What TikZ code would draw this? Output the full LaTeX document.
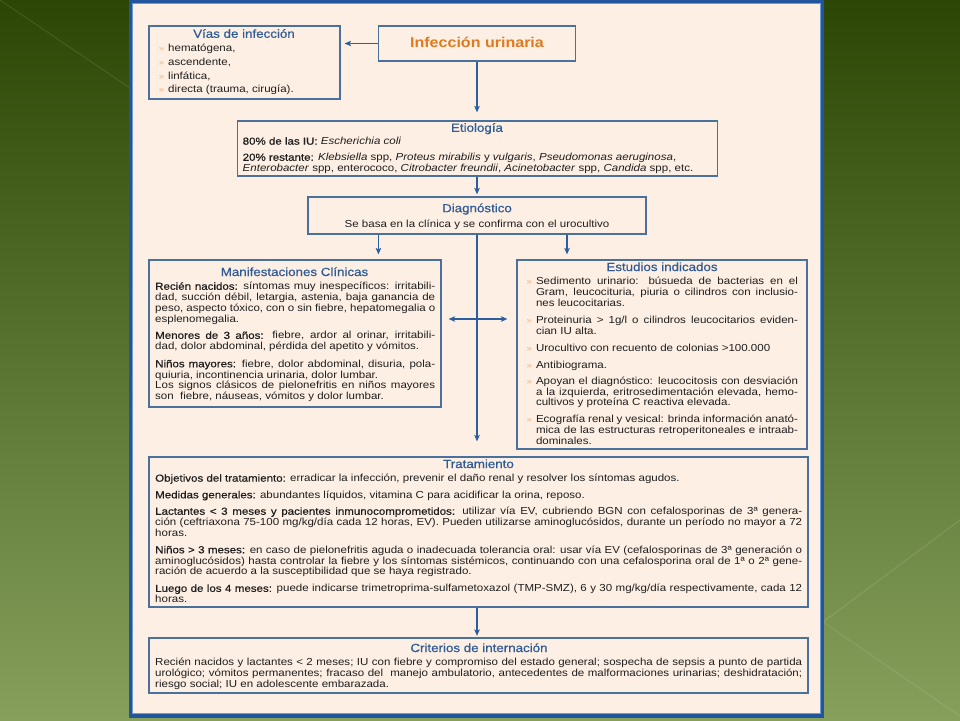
\documentclass[tikz,border=0pt]{standalone}
\usepackage{fontspec}
\setmainfont{Liberation Sans}[FakeStretch=1.13]
\newfontfamily\semib{Liberation Sans}[FakeStretch=1.13,FakeBold=0.5]
\usetikzlibrary{arrows.meta}
\definecolor{bgtop}{HTML}{2C4705}
\definecolor{bgmid}{HTML}{55702C}
\definecolor{bgbot}{HTML}{86A05C}
\definecolor{panelfill}{HTML}{FDEFE3}
\definecolor{panelborder}{HTML}{22569C}
\definecolor{panelinner}{HTML}{6F9AD2}
\definecolor{boxc}{HTML}{4A709C}
\definecolor{arrc}{HTML}{2A5E9E}
\definecolor{titc}{HTML}{2F5B96}
\definecolor{txtc}{HTML}{1E1E1E}
\definecolor{orangec}{HTML}{E07A1E}
\definecolor{bulc}{HTML}{F0B486}
\newcommand\bodyf{\fontsize{10.2}{10.8}\selectfont\hyphenpenalty=10000\exhyphenpenalty=10000\tolerance=9000\relax}
\newcommand\titlef{\semib\fontsize{11.8}{13}\selectfont}
\newcommand\bul{\llap{{\color{bulc}\fontsize{8.5}{8.5}\selectfont »}\hspace{4pt}}}
\begin{document}
\begin{tikzpicture}[x=1pt,y=-1pt,
  box/.style={draw=boxc, line width=1.2pt, rectangle, inner sep=0pt},
  arr/.style={draw=arrc, line width=1.1pt, -{Stealth[length=6.5pt,width=5.5pt,inset=1.5pt]}},
  arrb/.style={draw=arrc, line width=1.1pt, {Stealth[length=6.5pt,width=5.5pt,inset=1.5pt]}-{Stealth[length=6.5pt,width=5.5pt,inset=1.5pt]}},
  ttl/.style={anchor=base, inner sep=0pt, text=titc, font=\titlef},
  txt/.style={anchor=north west, inner sep=0pt, text width=#1, align=justify, text=txtc, font=\bodyf, execute at begin node=\noindent\strut},
  txt/.default=300pt,
]
\useasboundingbox (0,0) rectangle (960,720);
% background
\shade[top color=bgtop, middle color=bgmid, bottom color=bgbot] (0,0) rectangle (960,720);
\draw[white, opacity=0.10, line width=1pt] (0,0) -- (130,88);
\draw[white, opacity=0.12, line width=1pt] (823,622) -- (960,520);
\draw[white, opacity=0.10, line width=1pt] (823,622) -- (960,716);
% panel
\draw[fill=panelfill, draw=panelborder, line width=3.5pt] (130.5,1) rectangle (822.5,716);
\draw[draw=panelinner, line width=0.8pt] (132.6,3.2) rectangle (820.4,713.8);

% boxes
\node[box, minimum width=197pt, minimum height=35pt] (inf) at (477,43.5) {};
\node[box, minimum width=191pt, minimum height=73pt] (vias) at (244.5,62.5) {};
\node[box, minimum width=480pt, minimum height=55pt] (etio) at (477.5,148.5) {};
\node[box, minimum width=338pt, minimum height=37pt] (diag) at (477,215.5) {};
\node[box, minimum width=292pt, minimum height=147pt] (mani) at (295,333.5) {};
\node[box, minimum width=290pt, minimum height=189pt] (estu) at (662,354.5) {};
\node[box, minimum width=659pt, minimum height=150pt] (trat) at (478.5,532) {};
\node[box, minimum width=659pt, minimum height=55pt] (crit) at (478.5,665.5) {};

% titles
\node[anchor=base, inner sep=0pt, text=orangec, font=\bfseries\fontsize{14.2}{15}\selectfont] (tinf) at (477,47.8) {Infección urinaria};
\node[ttl] (tvias) at (244,37.8) {Vías de infección};
\node[ttl] (tetio) at (477,131.8) {Etiología};
\node[ttl] (tdiag) at (477,212.2) {Diagnóstico};
\node[ttl] (tmani) at (294.5,276) {Manifestaciones Clínicas};
\node[ttl] (testu) at (662,271) {Estudios indicados};
\node[ttl] (ttrat) at (478.5,468) {Tratamiento};
\node[ttl] (tcrit) at (479,652) {Criterios de internación};

% Vías de infección
\node[txt=165pt] (v1) at (168,43.7) {\bul hematógena,};
\node[txt=165pt] (v2) at (168,57.5) {\bul ascendente,};
\node[txt=165pt] (v3) at (168,71.3) {\bul linfática,};
\node[txt=165pt] (v4) at (168,85) {\bul directa (trauma, cirugía).};

% Etiología
\node[txt=470pt] (e1) at (242.5,136.9) {{\semib 80\% de las IU:} \textit{Escherichia coli}};
\node[txt=470pt] (e2) at (242.5,153) {{\semib 20\% restante:} \textit{Klebsiella} spp, \textit{Proteus mirabilis} y \textit{vulgaris}, \textit{Pseudomonas aeruginosa},\\\textit{Enterobacter} spp, enterococo, \textit{Citrobacter freundii}, \textit{Acinetobacter} spp, \textit{Candida} spp, etc.};

% Diagnóstico
\node[anchor=base, inner sep=0pt, text=txtc, font=\bodyf] (d1) at (477,227) {Se basa en la clínica y se confirma con el urocultivo};

% Manifestaciones
\node[txt=280pt] (m1) at (155,282) {{\semib Recién nacidos:} síntomas muy inespecíficos: irritabili-\linebreak dad, succión débil, letargia, astenia, baja ganancia de\linebreak peso, aspecto tóxico, con o sin fiebre, hepatomegalia o\linebreak esplenomegalia.};
\node[txt=280pt] (m2) at (155,331.1) {{\semib Menores de 3 años:} fiebre, ardor al orinar, irritabili-\linebreak dad, dolor abdominal, pérdida del apetito y vómitos.};
\node[txt=280pt] (m3) at (155,359.5) {{\semib Niños mayores:} fiebre, dolor abdominal, disuria, pola-\linebreak quiuria, incontinencia urinaria, dolor lumbar.\\Los signos clásicos de pielonefritis en niños mayores\linebreak son\ \ fiebre, náuseas, vómitos y dolor lumbar.};

% Estudios
\node[txt=262pt] (s1) at (535.8,276.9) {\bul Sedimento urinario: búsueda de bacterias en el\linebreak Gram, leucocituria, piuria o cilindros con inclusio-\linebreak nes leucocitarias.};
\node[txt=262pt] (s2) at (535.8,316) {\bul Proteinuria > 1g/l o cilindros leucocitarios eviden-\linebreak cian IU alta.};
\node[txt=262pt] (s3) at (535.8,344) {\bul Urocultivo con recuento de colonias >100.000};
\node[txt=262pt] (s4) at (535.8,361) {\bul Antibiograma.};
\node[txt=262pt] (s5) at (535.8,376.5) {\bul Apoyan el diagnóstico: leucocitosis con desviación\linebreak a la izquierda, eritrosedimentación elevada, hemo-\linebreak cultivos y proteína C reactiva elevada.};
\node[txt=262pt] (s6) at (535.8,415.1) {\bul Ecografía renal y vesical: brinda información anató-\linebreak mica de las estructuras retroperitoneales e intraab-\linebreak dominales.};

% Tratamiento
\node[txt=647pt] (t1) at (155,473.9) {{\semib Objetivos del tratamiento:} erradicar la infección, prevenir el daño renal y resolver los síntomas agudos.};
\node[txt=647pt] (t2) at (155,490.5) {{\semib Medidas generales:} abundantes líquidos, vitamina C para acidificar la orina, reposo.};
\node[txt=647pt] (t3) at (155,507) {{\semib Lactantes < 3 meses y pacientes inmunocomprometidos:} utilizar vía EV, cubriendo BGN con cefalosporinas de 3ª genera-\linebreak ción (ceftriaxona 75-100 mg/kg/día cada 12 horas, EV). Pueden utilizarse aminoglucósidos, durante un período no mayor a 72\linebreak horas.};
\node[txt=647pt] (t4) at (155,545.5) {{\semib Niños > 3 meses:} en caso de pielonefritis aguda o inadecuada tolerancia oral: usar vía EV (cefalosporinas de 3ª generación o\linebreak aminoglucósidos) hasta controlar la fiebre y los síntomas sistémicos, continuando con una cefalosporina oral de 1ª o 2ª gene-\linebreak ración de acuerdo a la susceptibilidad que se haya registrado.};
\node[txt=647pt] (t5) at (155,584.1) {{\semib Luego de los 4 meses:} puede indicarse trimetroprima-sulfametoxazol (TMP-SMZ), 6 y 30 mg/kg/día respectivamente, cada 12\linebreak horas.};

% Criterios
\node[txt=647pt] (c1) at (155,658) {Recién nacidos y lactantes < 2 meses; IU con fiebre y compromiso del estado general; sospecha de sepsis a punto de partida\linebreak urológico; vómitos permanentes; fracaso del\ \ manejo ambulatorio, antecedentes de malformaciones urinarias; deshidratación;\linebreak riesgo social; IU en adolescente embarazada.};

% connectors
\coordinate (sp) at (477,0);
\coordinate (la) at (378.4,0);
\coordinate (ra) at (567,0);
\coordinate (hy) at (477,319);
\draw[arr, shorten >=4pt] (inf.west) -- (vias.east |- inf.west);
\draw[arr, shorten >=8pt] (inf.south) -- (sp |- etio.north);
\draw[arr, shorten >=2pt] (sp |- etio.south) -- (sp |- diag.north);
\draw[arr, shorten >=5pt] (la |- diag.south) -- (la |- mani.north);
\draw[arr, shorten >=5pt] (ra |- diag.south) -- (ra |- estu.north);
\draw[arr, shorten >=15pt] (diag.south) -- (sp |- trat.north);
\draw[arrb, shorten <=7pt, shorten >=9pt] (hy -| mani.east) -- (hy -| estu.west);
\draw[arr, shorten >=1.5pt] (sp |- trat.south) -- (sp |- crit.north);
\end{tikzpicture}
\end{document}
